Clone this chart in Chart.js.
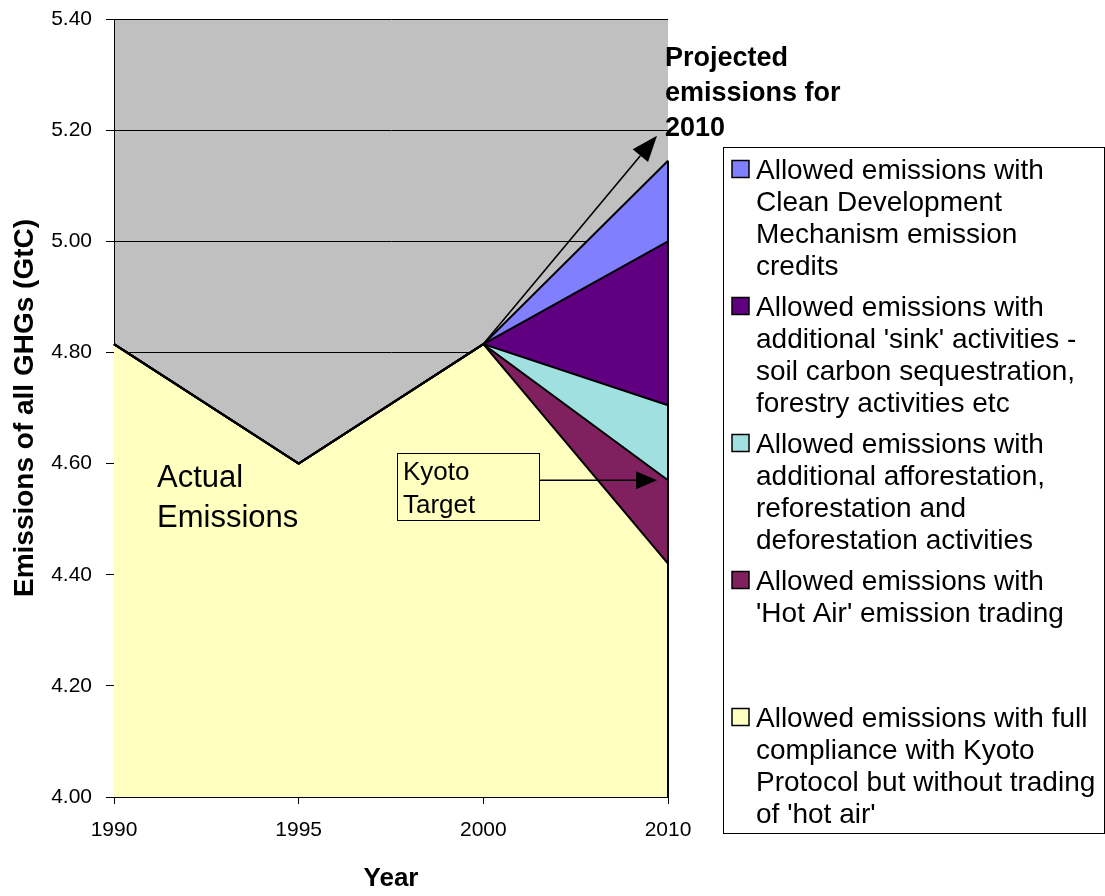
<!DOCTYPE html>
<html>
<head>
<meta charset="utf-8">
<script src="https://cdn.jsdelivr.net/npm/chart.js@4.4.0/dist/chart.umd.min.js"></script>
<style>
  html, body { margin: 0; padding: 0; background: #ffffff; overflow: hidden; }
  #wrap { width: 1105px; height: 896px; position: relative; }
</style>
</head>
<body>
<div id="wrap"><canvas id="c" width="1105" height="896"></canvas></div>
<script>
// Years on the category axis
const years = ['1990', '1995', '2000', '2010'];

// Stacked series (GtC); the lowest series is the absolute level, the others are increments
const fullCompliance = [4.815, 4.60, 4.815, 4.42];
const hotAirTrading  = [0, 0, 0, 0.15];
const afforestation  = [0, 0, 0, 0.135];
const sinkActivities = [0, 0, 0, 0.295];
const cdmCredits     = [0, 0, 0, 0.145];

// Value axis range and tick spacing
const yMin = 4.0;
const yMax = 5.4;
const yStep = 0.2;

// Legend text, one entry per line
const nameCompliance = ['Allowed emissions with full', 'compliance with Kyoto', 'Protocol but without trading', "of 'hot air'"];
const nameHotAir     = ['Allowed emissions with', "'Hot Air' emission trading"];
const nameAfforest   = ['Allowed emissions with', 'additional afforestation,', 'reforestation and', 'deforestation activities'];
const nameSinks      = ['Allowed emissions with', "additional 'sink' activities -", 'soil carbon sequestration,', 'forestry activities etc'];
const nameCdm        = ['Allowed emissions with', 'Clean Development', 'Mechanism emission', 'credits'];

// Annotation texts
const actualText = ['Actual', 'Emissions'];
const kyotoText = ['Kyoto', 'Target'];
const projectedText = ['Projected', 'emissions for', '2010'];
const projectedLevel = 5.19;

const FONT = '"Liberation Sans", Arial, sans-serif';

function arrow(ctx, x1, y1, x2, y2, headLen, headHalf) {
  const ang = Math.atan2(y2 - y1, x2 - x1);
  const bx = x2 - headLen * Math.cos(ang);
  const by = y2 - headLen * Math.sin(ang);
  ctx.beginPath();
  ctx.moveTo(x1, y1);
  ctx.lineTo(bx, by);
  ctx.stroke();
  ctx.beginPath();
  ctx.moveTo(x2, y2);
  ctx.lineTo(bx + headHalf * Math.sin(ang), by - headHalf * Math.cos(ang));
  ctx.lineTo(bx - headHalf * Math.sin(ang), by + headHalf * Math.cos(ang));
  ctx.closePath();
  ctx.fill();
}

const decor = {
  id: 'decor',
  beforeDraw(chart) {
    const { ctx, chartArea: a } = chart;
    ctx.save();
    ctx.fillStyle = '#c0c0c0';
    ctx.fillRect(a.left, a.top, a.right - a.left, a.bottom - a.top);
    ctx.restore();
  },
  afterDatasetsDraw(chart) {
    const { ctx, chartArea: a, scales: { x, y } } = chart;
    const ds = chart.data.datasets;
    const last = years.length - 1;
    const xEnd = x.getPixelForValue(last);
    const stackTop = (upTo, i) => {
      let s = 0;
      for (let k = 0; k <= upTo; k++) s += ds[k].data[i];
      return s;
    };
    ctx.save();

    // closing edge of the stacked areas at the final year
    ctx.strokeStyle = '#000';
    ctx.lineWidth = 2;
    ctx.beginPath();
    ctx.moveTo(xEnd, y.getPixelForValue(stackTop(ds.length - 1, last)));
    ctx.lineTo(xEnd, a.bottom);
    ctx.stroke();

    // "Actual Emissions" label
    ctx.fillStyle = '#000';
    ctx.font = '31px ' + FONT;
    ctx.textBaseline = 'alphabetic';
    ctx.textAlign = 'left';
    actualText.forEach((t, i) => ctx.fillText(t, a.left + 43, 487 + i * 39.5));

    // Kyoto Target call-out box and arrow to the hot-air level
    const bx = 397, by = 453.5, bw = 142, bh = 67;
    ctx.fillStyle = '#ffffc0';
    ctx.fillRect(bx, by, bw, bh);
    ctx.lineWidth = 1;
    ctx.strokeStyle = '#000';
    ctx.strokeRect(bx + 0.5, by, bw, bh);
    ctx.fillStyle = '#000';
    ctx.font = '26px ' + FONT;
    kyotoText.forEach((t, i) => ctx.fillText(t, bx + 6, by + 26 + i * 33));
    const kyY = y.getPixelForValue(stackTop(1, last));
    ctx.lineWidth = 1.3;
    arrow(ctx, bx + bw, kyY, xEnd - 11, kyY, 21, 9);

    // Projected emissions arrow from the 2000 level
    const p0x = x.getPixelForValue(2);
    const p0y = y.getPixelForValue(stackTop(0, 2));
    ctx.lineWidth = 1.6;
    arrow(ctx, p0x, p0y, xEnd - 11, y.getPixelForValue(projectedLevel), 26, 10);

    ctx.font = 'bold 27px ' + FONT;
    projectedText.forEach((t, i) => ctx.fillText(t, xEnd - 3, 66 + i * 35));

    // Legend box
    ctx.lineWidth = 1;
    ctx.strokeStyle = '#000';
    ctx.strokeRect(723.5, 147.5, 381, 686);
    ctx.font = '28px ' + FONT;
    const order = ds.slice().reverse();
    order.forEach((d, i) => {
      const base = 179 + i * 137;
      ctx.fillStyle = d.backgroundColor;
      ctx.fillRect(732, base - 18.5, 17, 17);
      ctx.lineWidth = 1.5;
      ctx.strokeRect(732, base - 18.5, 17, 17);
      ctx.fillStyle = '#000';
      d.legendLines.forEach((t, k) => ctx.fillText(t, 756, base + k * 32));
    });

    ctx.restore();
  }
};

const tickFont = { family: FONT, size: 21 };

new Chart(document.getElementById('c'), {
  type: 'line',
  data: {
    labels: years,
    datasets: [
      { label: nameCompliance.join(' '), legendLines: nameCompliance, data: fullCompliance, backgroundColor: '#ffffc0', fill: 'start' },
      { label: nameHotAir.join(' '), legendLines: nameHotAir, data: hotAirTrading, backgroundColor: '#80205f', fill: '-1' },
      { label: nameAfforest.join(' '), legendLines: nameAfforest, data: afforestation, backgroundColor: '#a0e0e0', fill: '-1' },
      { label: nameSinks.join(' '), legendLines: nameSinks, data: sinkActivities, backgroundColor: '#600080', fill: '-1' },
      { label: nameCdm.join(' '), legendLines: nameCdm, data: cdmCredits, backgroundColor: '#8080ff', fill: '-1' }
    ]
  },
  options: {
    responsive: false,
    animation: false,
    devicePixelRatio: 1,
    layout: { padding: { top: 19, right: 437, bottom: 0, left: 0 } },
    elements: {
      line: { tension: 0, borderColor: '#000', borderWidth: 2 },
      point: { radius: 0, hoverRadius: 0 }
    },
    plugins: {
      legend: { display: false },
      tooltip: { enabled: false },
      filler: { drawTime: 'beforeDatasetsDraw' }
    },
    scales: {
      x: {
        grid: { drawOnChartArea: false, color: '#000', tickLength: 7 },
        border: { color: '#000', width: 1 },
        ticks: { color: '#000', font: tickFont, padding: 14, maxRotation: 0 },
        title: { display: true, text: 'Year', color: '#000', font: { family: FONT, size: 26, weight: 'bold' }, padding: { top: 0, bottom: 2 } },
        afterFit(s) { s.height = 99; }
      },
      y: {
        stacked: true,
        min: yMin,
        max: yMax,
        grid: { color: '#000', tickLength: 8 },
        border: { color: '#000', width: 1 },
        ticks: { stepSize: yStep, color: '#000', font: tickFont, padding: 14, callback: v => Number(v).toFixed(2) },
        title: { display: true, text: 'Emissions of all GHGs (GtC)', color: '#000', font: { family: FONT, size: 28, weight: 'bold' }, padding: { top: 8, bottom: 0 } },
        afterFit(s) { s.width = 114; s.paddingTop = 0; s.paddingBottom = 0; }
      }
    }
  },
  plugins: [decor]
});
</script>
</body>
</html>
